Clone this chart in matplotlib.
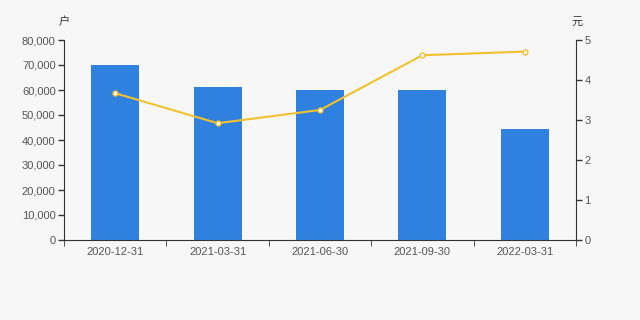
import matplotlib.pyplot as plt
from matplotlib.ticker import FuncFormatter

plt.rcParams['font.family'] = ['Liberation Sans', 'Noto Sans CJK SC', 'DejaVu Sans']

dates = ["2020-12-31", "2021-03-31", "2021-06-30", "2021-09-30", "2022-03-31"]
holders = [70200, 61400, 60200, 60200, 44500]
per_value = [3.67, 2.92, 3.25, 4.62, 4.71]

bg = "#f7f7f7"
fig = plt.figure(figsize=(6.4, 3.2), dpi=100, facecolor=bg)
ax = fig.add_axes([64 / 640, 80 / 320, 512 / 640, 200 / 320], facecolor=bg)
ax2 = ax.twinx()

x = list(range(len(dates)))
ax.bar(x, holders, width=0.47, color="#3080e0", zorder=2)
ax.set_xlim(-0.5, len(dates) - 0.5)
ax.set_ylim(0, 80000)
ax.set_yticks(range(0, 80001, 10000))
ax.yaxis.set_major_formatter(FuncFormatter(lambda v, p: f"{int(v):,}"))
ax.set_xticks(x)
ax.set_xticklabels(dates)
ax.set_xticks([i + 0.5 for i in range(-1, len(dates))], minor=True)

ax2.plot(x, per_value, color="#f2c12e", lw=1.5, marker="o", ms=3.5,
         mfc="white", mec="#f2c12e", mew=1, zorder=3)
ax2.set_ylim(0, 5)
ax2.set_yticks(range(0, 6))

for a in (ax, ax2):
    a.spines["top"].set_visible(False)
    for s in ("left", "right", "bottom"):
        a.spines[s].set_color("#333333")
    a.tick_params(labelsize=8, colors="#333333", labelcolor="#555555", length=4, width=1)
ax.spines["right"].set_visible(False)
ax2.spines["left"].set_visible(False)
ax2.spines["bottom"].set_visible(False)
ax.tick_params(axis="x", which="major", length=0, pad=5)
ax.tick_params(axis="x", which="minor", length=4, color="#333333")
ax.tick_params(axis="y", pad=2)
ax2.tick_params(axis="y", pad=2)

fig.text(64 / 640, 1 - 22 / 320, "户", fontsize=8, color="#333333", ha="center", va="center")
fig.text(577 / 640, 1 - 22 / 320, "元", fontsize=8, color="#333333", ha="center", va="center")

fig.savefig("out.png", dpi=100, facecolor=bg)
